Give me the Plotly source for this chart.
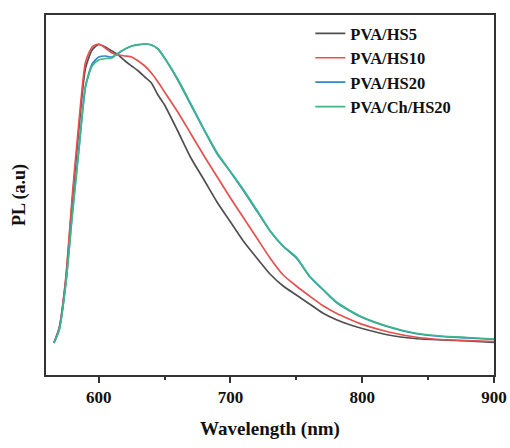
import plotly.graph_objects as go

wavelength = [566, 570, 575, 580, 585, 590, 595, 600, 605, 610, 615, 620, 625, 630, 635, 640, 645, 650,
              660, 670, 680, 690, 700, 710, 720, 730, 740, 750, 760, 770, 780, 790, 800, 820, 840, 860, 880, 900]

pva_hs5 = [32, 47, 95, 175, 247, 307, 325, 330.5, 328, 324, 320, 314, 309, 304, 298, 292, 280, 270,
           244, 217, 195, 172.5, 153, 133.5, 117, 101, 89, 80, 71, 62, 55.5, 50.5, 46.5, 40, 36.5, 35, 34, 32.5]
pva_hs10 = [32, 47, 97, 180, 253, 313, 328, 331, 327, 322, 320, 319, 318, 314, 309, 302, 293, 283,
            263, 241, 219, 198, 177, 157, 137, 117, 100, 89, 79, 69.5, 62, 56, 50.6, 43, 38, 35.5, 34.5, 33.5]
pva_hs20 = [32, 45, 91, 162, 227, 289, 311, 318, 319, 318, 322, 326, 329, 330.5, 331, 330, 326, 317,
            295, 270, 245, 221, 203, 184, 164, 144, 128.5, 117, 98.5, 85.5, 73, 64.5, 57.5, 48, 41.5, 38.5, 37, 35.5]
pva_ch_hs20 = [32, 45, 90, 160, 225, 288, 309, 315, 316.5, 317, 322, 326, 329, 330, 331, 330, 326, 317,
               296, 271, 245.5, 222, 203.5, 185, 165, 144.5, 129, 118, 99, 86, 73.5, 65, 58, 48.5, 42, 39, 37.5, 36]

series_names = ["PVA/HS5", "PVA/HS10", "PVA/HS20", "PVA/Ch/HS20"]
series_values = [pva_hs5, pva_hs10, pva_hs20, pva_ch_hs20]
series_colors = ["#505050", "#e5514f", "#2f86c8", "#3db68a"]

x_tick_values = [600, 700, 800, 900]
x_tick_labels = ["600", "700", "800", "900"]

fig = go.Figure()
for name, vals, col in zip(series_names, series_values, series_colors):
    fig.add_trace(go.Scatter(
        x=wavelength, y=vals, name=name, mode="lines",
        line=dict(color=col, width=1.7, shape="spline", smoothing=0.6),
    ))

font_family = "Liberation Serif, Times New Roman, serif"
fig.update_layout(
    width=510, height=448,
    margin=dict(l=46, r=16, t=15, b=73),
    paper_bgcolor="white", plot_bgcolor="white",
    font=dict(family=font_family, color="#111", size=16),
    showlegend=True,
    legend=dict(
        x=0.59, y=0.997, xanchor="left", yanchor="top",
        bgcolor="rgba(0,0,0,0)",
        font=dict(family=font_family, size=16.5, weight="bold", color="#111"),
        tracegroupgap=0,
    ),
)
fig.update_xaxes(
    range=[560, 900], automargin=False,
    tickvals=x_tick_values, ticktext=x_tick_labels,
    ticks="outside", ticklen=6, tickwidth=1.5, tickcolor="#333",
    ticklabelstandoff=0,
    minor=dict(dtick=50, tick0=600, ticks="outside", ticklen=3, tickwidth=1.5, tickcolor="#333"),
    tickfont=dict(family=font_family, size=17, weight="bold", color="#111"),
    showline=True, mirror=True, linecolor="#333", linewidth=1.6,
    showgrid=False, zeroline=False,
    title=dict(text="Wavelength (nm)", font=dict(family=font_family, size=19, weight="bold", color="#111"),
               standoff=15),
)
fig.update_yaxes(
    range=[0, 360], automargin=False,
    showticklabels=False, ticks="",
    showline=True, mirror=True, linecolor="#333", linewidth=1.6,
    showgrid=False, zeroline=False,
    title=dict(text="PL (a.u)", font=dict(family=font_family, size=18, weight="bold", color="#111"),
               standoff=14),
)

fig.write_html("out.html")
